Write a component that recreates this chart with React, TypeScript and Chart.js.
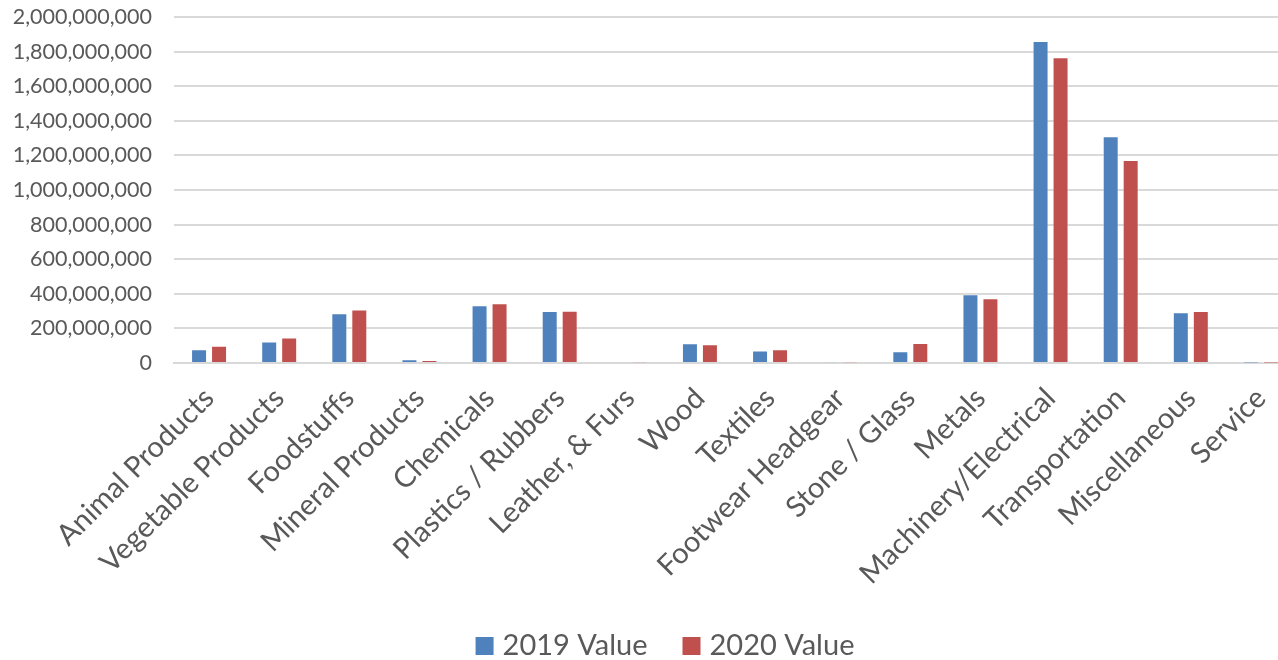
import React, { useEffect, useRef } from "react";
import { Chart, registerables } from "chart.js";

Chart.register(...registerables);

const categories = [
  "Animal Products",
  "Vegetable Products",
  "Foodstuffs",
  "Mineral Products",
  "Chemicals",
  "Plastics / Rubbers",
  "Leather, & Furs",
  "Wood",
  "Textiles",
  "Footwear Headgear",
  "Stone / Glass",
  "Metals",
  "Machinery/Electrical",
  "Transportation",
  "Miscellaneous",
  "Service",
];

const values2019 = [
  80e6, 125e6, 287e6, 21e6, 334e6, 301e6, 5e6, 114e6, 72e6, 4e6, 68e6, 397e6,
  1861e6, 1310e6, 293e6, 1e6,
];

const values2020 = [
  100e6, 147e6, 309e6, 16e6, 345e6, 302e6, 3e6, 109e6, 79e6, 2e6, 116e6, 374e6,
  1767e6, 1173e6, 300e6, 0.5e6,
];

const seriesLabels = ["2019 Value", "2020 Value"];
const seriesColors = ["#4F81BD", "#C0504D"];
const yMin = 0;
const yMax = 2000000000;
const yStep = 200000000;

// The original plot area runs past the right edge of the picture.
const plotRight = 1296;

const extendPlot = {
  id: "extendPlot",
  afterLayout(chart: any) {
    const area = chart.chartArea;
    area.right = plotRight;
    area.width = area.right - area.left;
    const x = chart.scales.x;
    x.right = plotRight;
    x.width = x.right - x.left;
    x.configure();
  },
};

const bottomLegend = {
  id: "bottomLegend",
  afterDraw(chart: any) {
    const ctx = chart.ctx;
    ctx.save();
    ctx.font = "29px Lato";
    ctx.textBaseline = "alphabetic";
    ctx.textAlign = "left";
    const box = 18;
    const gap = 9;
    const itemGap = 35;
    const items = chart.data.datasets.map((d: any) => ({
      text: d.label,
      color: d.backgroundColor,
      w: ctx.measureText(d.label).width,
    }));
    const total =
      items.reduce((s: number, it: any) => s + box + gap + it.w, 0) +
      itemGap * (items.length - 1);
    let x = 665 - total / 2;
    const baseY = 655;
    for (const it of items) {
      ctx.fillStyle = it.color;
      ctx.fillRect(x, baseY - box, box, box);
      ctx.fillStyle = "#595959";
      ctx.fillText(it.text, x + box + gap, baseY);
      x += box + gap + it.w + itemGap;
    }
    ctx.restore();
  },
};

export default function App() {
  const ref = useRef<HTMLCanvasElement>(null);

  useEffect(() => {
    document.body.style.margin = "0";
    if (!ref.current) return;
    const chart = new Chart(ref.current, {
      type: "bar",
      data: {
        labels: categories,
        datasets: [
          {
            label: seriesLabels[0],
            data: values2019,
            backgroundColor: seriesColors[0],
            borderColor: "rgba(255,255,255,0.35)",
            borderWidth: 1,
            categoryPercentage: 0.57,
            barPercentage: 0.8,
          },
          {
            label: seriesLabels[1],
            data: values2020,
            backgroundColor: seriesColors[1],
            borderColor: "rgba(255,255,255,0.35)",
            borderWidth: 1,
            categoryPercentage: 0.57,
            barPercentage: 0.8,
          },
        ],
      },
      options: {
        responsive: false,
        animation: false,
        layout: { padding: { top: 17, left: 0, right: 0, bottom: 40 } },
        plugins: {
          legend: { display: false },
          tooltip: { enabled: false },
        },
        scales: {
          x: {
            grid: { display: false },
            border: { display: true, color: "#D9D9D9", width: 2 },
            afterFit: (scale: any) => {
              scale.height = 257;
              scale.paddingLeft = 0;
              scale.paddingRight = 0;
            },
            ticks: {
              color: "#595959",
              font: { family: "Lato", size: 29 },
              maxRotation: 45,
              minRotation: 45,
              autoSkip: false,
              padding: 10,
            },
          },
          y: {
            min: yMin,
            max: yMax,
            grid: { color: "#D9D9D9", lineWidth: 2, drawTicks: false },
            border: { display: false },
            afterFit: (scale: any) => {
              scale.width = 174;
              scale.paddingTop = 0;
              scale.paddingBottom = 0;
            },
            ticks: {
              stepSize: yStep,
              color: "#595959",
              font: { family: "Lato", size: 21.5 },
              padding: 22,
              callback: (v: any) => Number(v).toLocaleString("en-US"),
            },
          },
        },
      },
      plugins: [extendPlot, bottomLegend],
    });
    return () => chart.destroy();
  }, []);

  return <canvas ref={ref} width={1278} height={660} />;
}
